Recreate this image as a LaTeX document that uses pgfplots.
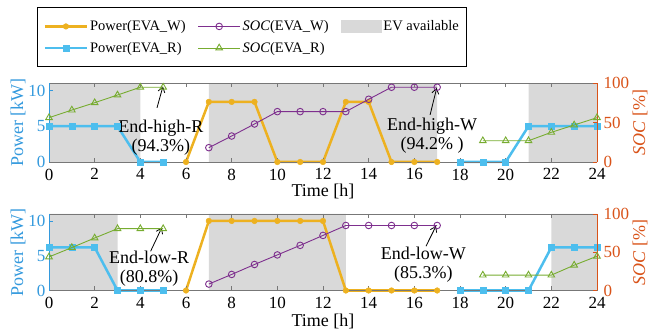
\documentclass[border=0pt]{standalone}
\usepackage{pgfplots}
\pgfplotsset{compat=1.18}
\usepackage{fontspec}
\setmainfont{Liberation Serif}
\usetikzlibrary{arrows.meta}
\definecolor{cW}{HTML}{EDB120}
\definecolor{cR}{HTML}{4DBEEE}
\definecolor{cSW}{HTML}{7E2F8E}
\definecolor{cSR}{HTML}{77AC30}
\definecolor{cL}{HTML}{3399DD}
\definecolor{cRt}{HTML}{D95319}
\definecolor{evgray}{HTML}{D9D9D9}
\definecolor{frame}{HTML}{777777}
\newcommand{\tickfont}{\fontsize{17bp}{17bp}\selectfont}
\newcommand{\labfont}{\fontsize{18bp}{19bp}\selectfont}
\pgfplotsset{
  powerW/.style={cW, line width=2.5bp, mark=*, mark size=2.8bp, mark options={solid, fill=cW, draw=cW, line width=0.5bp}},
  powerR/.style={cR, line width=2.5bp, mark=square*, mark size=3bp, mark options={solid, fill=cR, draw=cR, line width=0.5bp}},
  socW/.style={cSW, line width=0.9bp, mark=o, mark size=3.3bp, mark options={solid, line width=0.9bp}},
  socR/.style={cSR, line width=0.9bp, mark=triangle, mark size=3.8bp, mark options={solid, line width=0.9bp}},
  leftax/.style={
    scale only axis, width=548bp, anchor=south west,
    xmin=0, xmax=24, ymin=0, ymax=11, clip=false,
    axis x line=box, axis y line*=left, axis on top=true,
    xtick={0,2,...,24}, ytick={0,5,10},
    tick align=inside, major tick length=4bp,
    x axis line style={frame, line width=0.6bp},
    y axis line style={cL, line width=0.6bp},
    x tick style={frame, line width=0.6bp},
    y tick style={cL, line width=0.6bp},
    yticklabel style={cL},
    xticklabel style={inner ysep=0pt, yshift=-6.5bp},
    ticklabel style={font=\tickfont},
    /pgf/number format/assume math mode=true,
    label style={font=\labfont},
    ylabel={Power [kW]},
    ylabel style={cL, at={(axis description cs:-0.0566,0.5)}, anchor=center},
    xlabel={Time [h]},
  },
  rightax/.style={
    scale only axis, width=548bp, anchor=south west,
    xmin=0, xmax=24, ymin=0, ymax=100, clip=false,
    axis x line=none, axis y line*=right,
    ytick={0,50,100},
    tick align=inside, major tick length=4bp,
    y axis line style={cRt, line width=0.6bp},
    y tick style={cRt, line width=0.6bp},
    yticklabel style={cRt, xshift=3bp, inner ysep=0pt},
    ticklabel style={font=\tickfont},
    /pgf/number format/assume math mode=true,
    label style={font=\labfont},
    ylabel={\textit{SOC} [\%]},
    ylabel style={cRt, at={(axis description cs:1.0785,0.5)}, anchor=center},
  },
}
\begin{document}
\begin{tikzpicture}
\path[use as bounding box] (0,0) rectangle (649bp,335bp);
% ---------------- top panel ----------------
\begin{axis}[leftax, at={(49bp,173bp)}, height=78.7bp,
  xlabel style={at={(axis description cs:0.5,-0.377)}, anchor=center},
  legend columns=3,
  legend image code/.code={\draw[mark repeat=2,mark phase=2,#1] plot coordinates {(0bp,0bp) (21bp,0bp) (42bp,0bp)};},
  legend style={at={(-0.0214,1.966)}, anchor=north west, draw=black, line width=0.8bp,
    font=\fontsize{14.5bp}{16bp}\selectfont, inner xsep=6bp, inner ysep=11bp,
    row sep=6bp, /tikz/every even column/.append style={column sep=10bp}},
  legend cell align=left]
\addplot[fill=evgray, draw=none, forget plot] coordinates {(0,0) (0,11) (4,11) (4,0)} \closedcycle;
\addplot[fill=evgray, draw=none, forget plot] coordinates {(7,0) (7,11) (17,11) (17,0)} \closedcycle;
\addplot[fill=evgray, draw=none, forget plot] coordinates {(21,0) (21,11) (24,11) (24,0)} \closedcycle;
\addplot[powerR, forget plot] coordinates {(0,5) (1,5) (2,5) (3,5) (4,0) (5,0)};
\addplot[powerR, forget plot] coordinates {(18,0) (19,0) (20,0) (21,5) (22,5) (23,5) (24,5)};
\addplot[powerW, forget plot] coordinates {(6,0) (7,8.4) (8,8.4) (9,8.4) (10,0) (11,0) (12,0) (13,8.4) (14,8.4) (15,0) (16,0) (17,0)};
\addlegendimage{powerW}
\addlegendentry{Power(EVA\_W)}
\addlegendimage{socW}
\addlegendentry{\textit{SOC}(EVA\_W)}
\addlegendimage{legend image code/.code={\fill[evgray] (0bp,-6.3bp) rectangle (40bp,6.3bp);}}
\addlegendentry{EV available}
\addlegendimage{powerR}
\addlegendentry{Power(EVA\_R)}
\addlegendimage{socR}
\addlegendentry{\textit{SOC}(EVA\_R)}
\node[font=\labfont, align=center] at (axis cs:4.9,3.4) {End-high-R\\(94.3\%)};
\draw[-{Straight Barb[length=5bp,width=7bp]}, line width=0.8bp] (axis cs:4.73,7.57) -- (axis cs:4.99,10.56);
\node[font=\labfont, align=center] at (axis cs:16.78,3.7) {End-high-W\\(94.2\% )};
\draw[-{Straight Barb[length=5bp,width=7bp]}, line width=0.8bp] (axis cs:16.69,6.59) -- (axis cs:16.98,10.34);
\end{axis}
\begin{axis}[rightax, at={(49bp,173bp)}, height=78.7bp]
\addplot[socR] coordinates {(0,56.3) (1,66) (2,75.3) (3,85.1) (4,95) (5,95)};
\addplot[socR] coordinates {(19,27) (20,27) (21,27) (22,37.7) (23,47) (24,56.3)};
\addplot[socW] coordinates {(7,18.2) (8,33) (9,48.3) (10,64) (11,64) (12,64) (13,64) (14,79.7) (15,95) (16,95) (17,95)};
\end{axis}
% ---------------- bottom panel ----------------
\begin{axis}[leftax, at={(49bp,44.5bp)}, height=76.5bp,
  xlabel style={at={(axis description cs:0.5,-0.399)}, anchor=center}]
\addplot[fill=evgray, draw=none, forget plot] coordinates {(0,0) (0,11) (3,11) (3,0)} \closedcycle;
\addplot[fill=evgray, draw=none, forget plot] coordinates {(7,0) (7,11) (13,11) (13,0)} \closedcycle;
\addplot[fill=evgray, draw=none, forget plot] coordinates {(22,0) (22,11) (24,11) (24,0)} \closedcycle;
\addplot[powerR] coordinates {(0,6.2) (1,6.2) (2,6.2) (3,0) (4,0) (5,0)};
\addplot[powerR] coordinates {(18,0) (19,0) (20,0) (21,0) (22,6.2) (23,6.2) (24,6.2)};
\addplot[powerW] coordinates {(6,0) (7,10) (8,10) (9,10) (10,10) (11,10) (12,10) (13,0) (14,0) (15,0) (16,0) (17,0)};
\node[font=\labfont, align=center] at (axis cs:4.38,3.1) {End-low-R\\(80.8\%)};
\draw[-{Straight Barb[length=5bp,width=7bp]}, line width=0.8bp] (axis cs:4.45,5.64) -- (axis cs:4.94,9.04);
\node[font=\labfont, align=center] at (axis cs:16.4,3.7) {End-low-W\\(85.3\%)};
\draw[-{Straight Barb[length=5bp,width=7bp]}, line width=0.8bp] (axis cs:16.51,6.37) -- (axis cs:16.95,9.27);
\end{axis}
\begin{axis}[rightax, at={(49bp,44.5bp)}, height=76.5bp]
\addplot[socR] coordinates {(0,43.9) (1,56.1) (2,68.6) (3,80.8) (4,80.8) (5,80.8)};
\addplot[socR] coordinates {(19,20.1) (20,20.1) (21,20.1) (22,20.1) (23,33.1) (24,44.8)};
\addplot[socW] coordinates {(7,8.4) (8,21) (9,34) (10,46.5) (11,59) (12,72) (13,85) (14,85) (15,85) (16,85) (17,85)};
\end{axis}
\end{tikzpicture}
\end{document}
